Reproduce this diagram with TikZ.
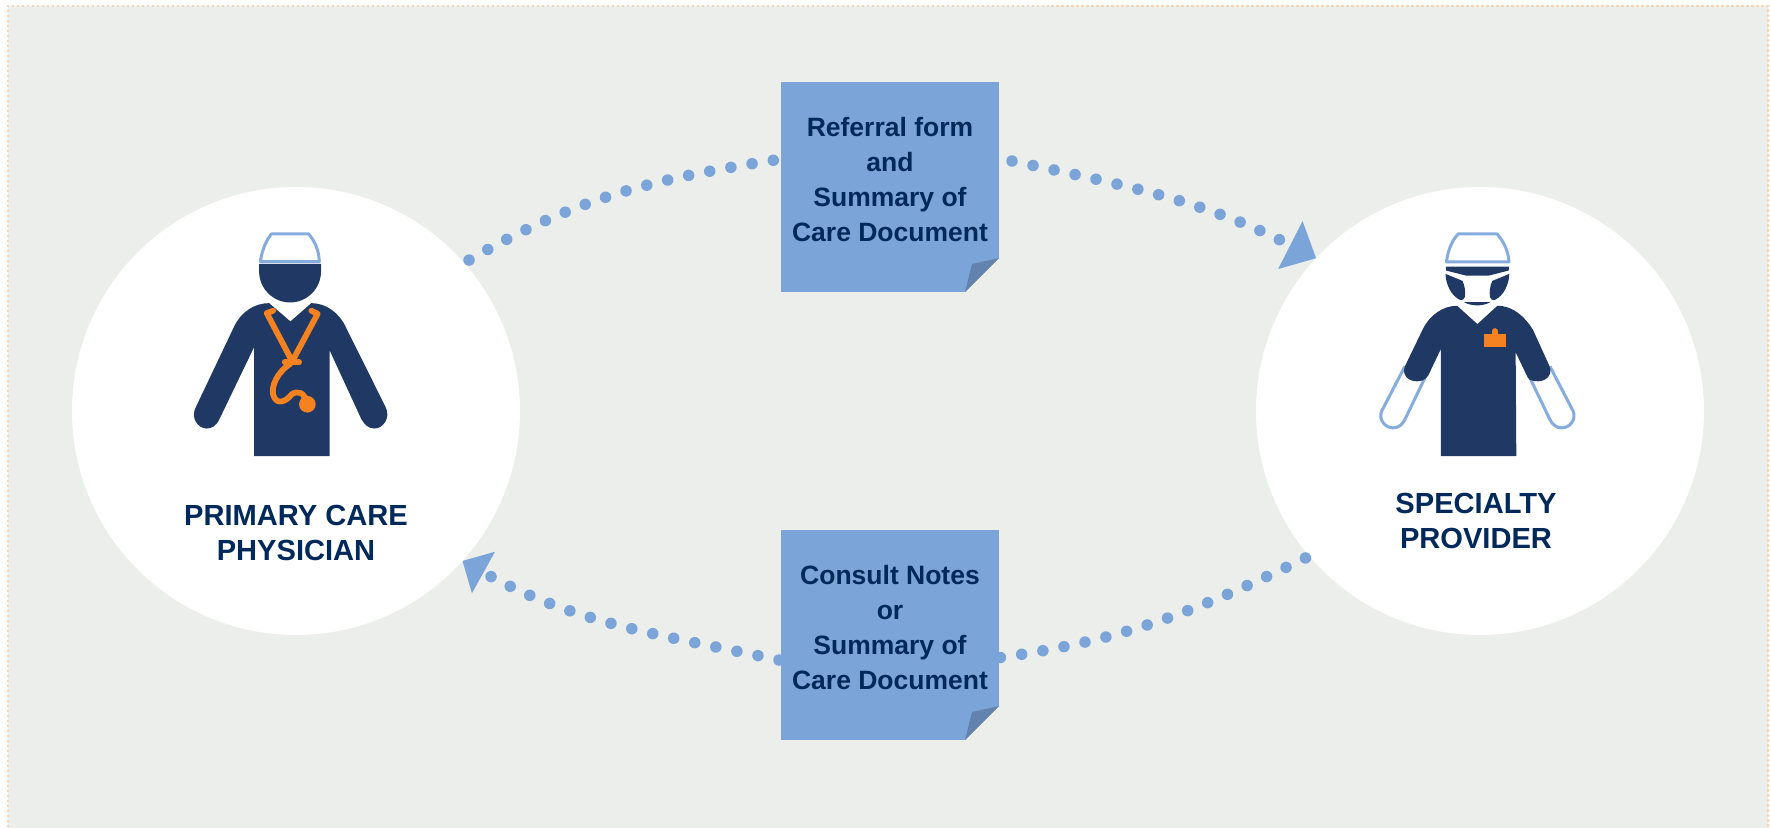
\documentclass[tikz,border=0pt]{standalone}
\usepackage{fontspec}
\setmainfont{Liberation Sans}
\usetikzlibrary{positioning, arrows.meta, shapes.geometric}
\definecolor{panelgrey}{HTML}{ECEEEB}
\definecolor{panelline}{HTML}{F8D3B0}
\definecolor{noteblue}{HTML}{7BA4D8}
\definecolor{foldblue}{HTML}{6283AD}
\definecolor{capblue}{HTML}{85ACDC}
\definecolor{navy}{HTML}{1F3864}
\definecolor{textnavy}{HTML}{00295B}
\definecolor{scrubs}{HTML}{F58220}
\tikzset{
    party/.style={circle, fill=white, minimum size=4.48cm, inner sep=0pt, outer sep=0pt},
    partytext/.style={align=center, text=textnavy, font=\fontsize{8.28}{9.96}\selectfont\bfseries},
    sheet/.style={rectangle, fill=noteblue, minimum width=2.18cm, minimum height=2.10cm, inner sep=0pt, outer sep=0pt},
    sheettext/.style={align=center, text=textnavy, font=\fontsize{7.54}{9.96}\selectfont\bfseries},
    dotline/.style={noteblue, line width=0.115cm, line cap=round, dash pattern=on 0pt off 0.215cm},
    body/.style={fill=navy},
    capline/.style={draw=capblue, line width=0.03cm, fill=white, line join=round},
    tube/.style={draw=scrubs, line width=0.058cm, line cap=round, line join=round}
}
\begin{document}
\begin{tikzpicture}
\useasboundingbox (0,0) rectangle (17.71,8.27);

% Panel
\draw[fill=panelgrey, draw=panelline, line width=0.02cm, dash pattern=on 0.025cm off 0.025cm] (0.08,-0.10) rectangle (17.68,8.21);

% Parties
\node (physician) [party] at (2.96,4.16) {};
\node (specialist) [party] at (14.80,4.16) {};
\node (physicianlabel) [partytext] at ([yshift=-1.22cm]physician) {PRIMARY CARE\\PHYSICIAN};
\node (specialistlabel) [partytext] at ([xshift=-0.04cm,yshift=-1.10cm]specialist) {SPECIALTY\\PROVIDER};

% Documents
\node (referral) [sheet] at (8.90,6.40) {};
\node (consult) [sheet, below=2.38cm of referral] {};
\foreach \n in {referral, consult} {
    \fill[panelgrey] ([xshift=-0.34cm]\n.south east) -- (\n.south east) -- ([yshift=0.34cm]\n.south east) -- cycle;
    \fill[foldblue] ([xshift=-0.34cm]\n.south east) -- ([yshift=0.34cm]\n.south east) -- ([xshift=-0.27cm,yshift=0.28cm]\n.south east) -- cycle;
}

% Dotted arrows
\draw[dotline] ([xshift=0.04cm,yshift=0.04cm]physician.41) to[out=30, in=189] ([xshift=-0.06cm,yshift=0.27cm]referral.west);
\draw[dotline, -{Triangle[length=0.29cm, width=0.52cm]}] ([xshift=0.13cm,yshift=0.26cm]referral.east) to[out=-12, in=153] (specialist.137.5);
\draw[dotline] ([xshift=-0.03cm,yshift=-0.03cm]specialist.220) to[out=206, in=8] ([xshift=-0.02cm,yshift=-0.23cm]consult.east);
\draw[dotline, -{Triangle[length=0.24cm, width=0.46cm]}] ([xshift=-0.02cm,yshift=-0.25cm]consult.west) to[out=168, in=-29] (physician.-42);

\node (referraltext) [sheettext] at ([yshift=0.07cm]referral) {Referral form\\and\\Summary of\\Care Document};
\node (consulttext) [sheettext] at ([yshift=0.07cm]consult) {Consult Notes\\or\\Summary of\\Care Document};

% Primary care physician
\begin{scope}[shift={(1.70,6.17)}, x=0.00333cm, y=-0.00333cm]
    \draw[capline] (272,155) .. controls (277,115) and (292,88) .. (305,72) -- (417,72) .. controls (432,90) and (447,115) .. (449,155) -- cycle;
    \fill[body] (268,162) -- (454,162) -- (454,185) .. controls (454,236) and (412,278) .. (361,278) .. controls (310,278) and (268,236) .. (268,185) -- cycle;
    \fill[body] (298,280) -- (362,335) -- (425,280) .. controls (470,280) and (510,310) .. (530,355) -- (648,592)
        .. controls (665,625) and (640,657) .. (615,657) .. controls (595,657) and (585,645) .. (575,628)
        -- (480,422) -- (480,740) -- (253,740) -- (253,412) -- (148,630)
        .. controls (138,650) and (125,657) .. (110,657) .. controls (85,657) and (60,625) .. (78,592)
        -- (193,350) .. controls (215,305) and (255,280) .. (298,280) -- cycle;
    \draw[tube] (310,303) -- (291,310) -- (362,445);
    \draw[tube] (425,303) -- (444,312) -- (370,450);
    \draw[tube] (345,458) -- (388,458);
    \draw[tube] (362,462) .. controls (320,490) and (305,530) .. (310,555) .. controls (320,590) and (350,575) .. (365,555) .. controls (385,540) and (405,550) .. (412,580);
    \fill[scrubs] (413,584) circle (25);
\end{scope}

% Specialty provider
\begin{scope}[shift={(13.60,6.17)}, x=0.00333cm, y=-0.00333cm]
    \draw[capline] (135,470) -- (65,605) .. controls (55,630) and (75,655) .. (100,655) .. controls (115,655) and (128,645) .. (135,630) -- (195,505);
    \draw[capline] (571,470) -- (641,605) .. controls (651,630) and (631,655) .. (606,655) .. controls (591,655) and (578,645) .. (571,630) -- (511,505);
    \draw[capline] (260,156) .. controls (265,115) and (280,88) .. (295,72) -- (412,72) .. controls (427,90) and (445,115) .. (448,156) -- cycle;
    \fill[body] (258,170) -- (448,170) -- (447,182) -- (388,197) -- (318,197) -- (259,182) -- cycle;
    \fill[body] (257,192) -- (308,213) .. controls (315,225) and (318,250) .. (315,262) .. controls (313,270) and (308,272) .. (300,270) .. controls (275,258) and (258,225) .. (257,192) -- cycle;
    \fill[body] (449,192) -- (398,213) .. controls (391,225) and (388,250) .. (391,262) .. controls (393,270) and (398,272) .. (406,270) .. controls (431,258) and (448,225) .. (449,192) -- cycle;
    \fill[body] (313,277) -- (392,277) .. controls (370,290) and (335,290) .. (313,277) -- cycle;
    \fill[body] (292,288) -- (353,343) -- (413,288) .. controls (460,288) and (495,320) .. (520,360) -- (570,470)
        .. controls (580,495) and (560,515) .. (535,515) .. controls (520,515) and (510,512) .. (505,505)
        -- (468,428) -- (470,740) -- (243,740) -- (243,418) -- (205,498)
        .. controls (195,512) and (185,515) .. (170,515) .. controls (145,515) and (125,495) .. (135,470)
        -- (188,360) .. controls (210,315) and (250,288) .. (292,288) -- cycle;
    \fill[scrubs] (372,372) rectangle (440,411);
    \draw[tube] (406,364) -- (406,372);
\end{scope}

\end{tikzpicture}
\end{document}
